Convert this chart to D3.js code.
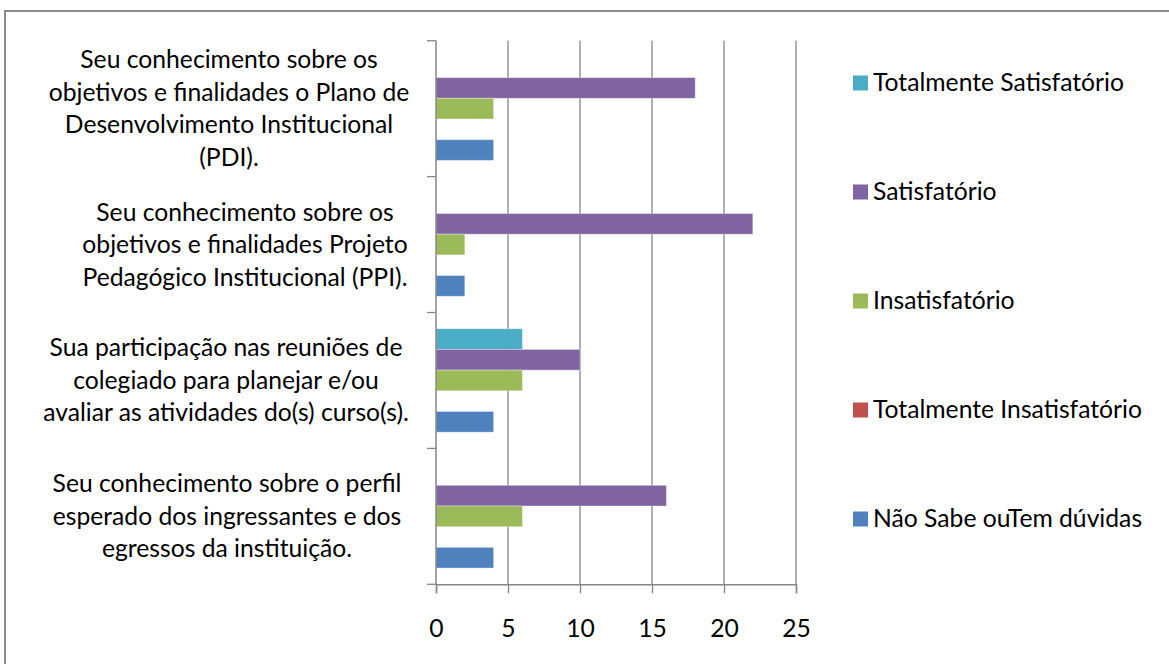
<!DOCTYPE html>
<html><head><meta charset="utf-8">
<script src="https://cdn.jsdelivr.net/npm/d3@7"></script>
<style>body{margin:0;background:#fff;} svg{display:block;}</style>
</head><body>
<svg id="c" width="1169" height="664"></svg>
<script>
// ---- data ----
const categories = [
  ["Seu conhecimento sobre os", "objetivos e finalidades o Plano de", "Desenvolvimento Institucional", "(PDI)."],
  ["Seu conhecimento sobre os", "objetivos e finalidades Projeto", "Pedagógico Institucional (PPI)."],
  ["Sua participação nas reuniões de", "colegiado para planejar e/ou", "avaliar as atividades do(s) curso(s)."],
  ["Seu conhecimento sobre o perfil", "esperado dos ingressantes e dos", "egressos da instituição."]
];
const seriesNames = ["Totalmente Satisfatório", "Satisfatório", "Insatisfatório", "Totalmente Insatisfatório", "Não Sabe ouTem dúvidas"];
const seriesColors = ["#4BACC6", "#8064A2", "#9BBB59", "#C0504D", "#4F81BD"];
const totalmenteSatisfatorio = [0, 0, 6, 0];
const satisfatorio = [18, 22, 10, 16];
const insatisfatorio = [4, 2, 6, 6];
const totalmenteInsatisfatorio = [0, 0, 0, 0];
const naoSabe = [4, 2, 4, 4];
const xTicks = [0, 5, 10, 15, 20, 25];

const seriesValues = [totalmenteSatisfatorio, satisfatorio, insatisfatorio, totalmenteInsatisfatorio, naoSabe];

// ---- layout ----
const FONT = "Lato, 'Open Sans', sans-serif";
const FS = 24.7;
const svg = d3.select("#c");
const plot = {left: 436, right: 796, top: 40.7, bottom: 584.3};
const gray = "#868686";

svg.append("rect").attr("x", 5).attr("y", 11).attr("width", 1170).attr("height", 670)
  .attr("fill", "#fff").attr("stroke", "#8a8a8a").attr("stroke-width", 2);

const x = d3.scaleLinear().domain([0, 25]).range([plot.left, plot.right]);
const idx = d3.range(categories.length);
const y = d3.scaleBand().domain(idx).range([plot.top, plot.bottom]).padding(0);
const ySub = d3.scaleBand().domain(d3.range(seriesNames.length)).range([0, y.bandwidth()])
  .paddingInner(0).paddingOuter(0.785);

// gridlines
svg.append("g").selectAll("line").data(xTicks.slice(1)).join("line")
  .attr("x1", d => x(d)).attr("x2", d => x(d))
  .attr("y1", plot.top).attr("y2", plot.bottom)
  .attr("stroke", gray).attr("stroke-width", 1.3);

// bars
const bars = [];
idx.forEach(ci => seriesValues.forEach((vals, si) => bars.push({ci, si, v: vals[ci]})));
svg.append("g").selectAll("rect").data(bars.filter(b => b.v > 0)).join("rect")
  .attr("x", x(0)).attr("y", d => y(d.ci) + ySub(d.si))
  .attr("width", d => x(d.v) - x(0)).attr("height", ySub.bandwidth())
  .attr("fill", d => seriesColors[d.si])
  .attr("stroke", "rgba(255,255,255,0.35)").attr("stroke-width", 1);

// x axis
const xAxis = d3.axisBottom(x).tickValues(xTicks).tickSize(9).tickPadding(26).tickFormat(d3.format("d"));
const gx = svg.append("g").attr("transform", `translate(0,${plot.bottom})`).call(xAxis);
gx.select(".domain").attr("stroke", gray).attr("stroke-width", 1.5);
gx.selectAll(".tick line").attr("stroke", gray).attr("stroke-width", 1.3);
gx.selectAll(".tick text").attr("font-family", FONT).attr("font-size", FS).attr("fill", "#000");

// y axis (ticks at band boundaries)
const yEdges = idx.map(i => y(i)).concat([plot.bottom]);
svg.append("line").attr("x1", plot.left).attr("x2", plot.left).attr("y1", plot.top).attr("y2", plot.bottom)
  .attr("stroke", gray).attr("stroke-width", 1.5);
svg.append("g").selectAll("line").data(yEdges).join("line")
  .attr("x1", plot.left - 9).attr("x2", plot.left).attr("y1", d => d).attr("y2", d => d)
  .attr("stroke", gray).attr("stroke-width", 1.3);

// category labels
const labelCenters = [229, 245, 226, 227];
const LH = 32.5, CAP = 8.5;
const gl = svg.append("g");
categories.forEach((lines, ci) => {
  const cy = y(ci) + y.bandwidth() / 2;
  const first = cy - (lines.length - 1) * LH / 2 + CAP;
  gl.append("text").attr("text-anchor", "middle").attr("font-family", FONT).attr("font-size", FS).attr("fill", "#000")
    .selectAll("tspan").data(lines).join("tspan")
    .attr("x", labelCenters[ci]).attr("y", (d, i) => first + i * LH).text(d => d);
});

// legend
const legY = d3.scalePoint().domain(d3.range(seriesNames.length)).range([83, 519]);
const lg = svg.append("g");
seriesNames.forEach((n, i) => {
  lg.append("rect").attr("x", 853).attr("y", legY(i) - 7.5).attr("width", 15).attr("height", 15).attr("fill", seriesColors[i]);
  lg.append("text").attr("x", 873).attr("y", legY(i) + 8).attr("font-family", FONT).attr("font-size", FS).attr("fill", "#000").text(n);
});
</script>
</body></html>
